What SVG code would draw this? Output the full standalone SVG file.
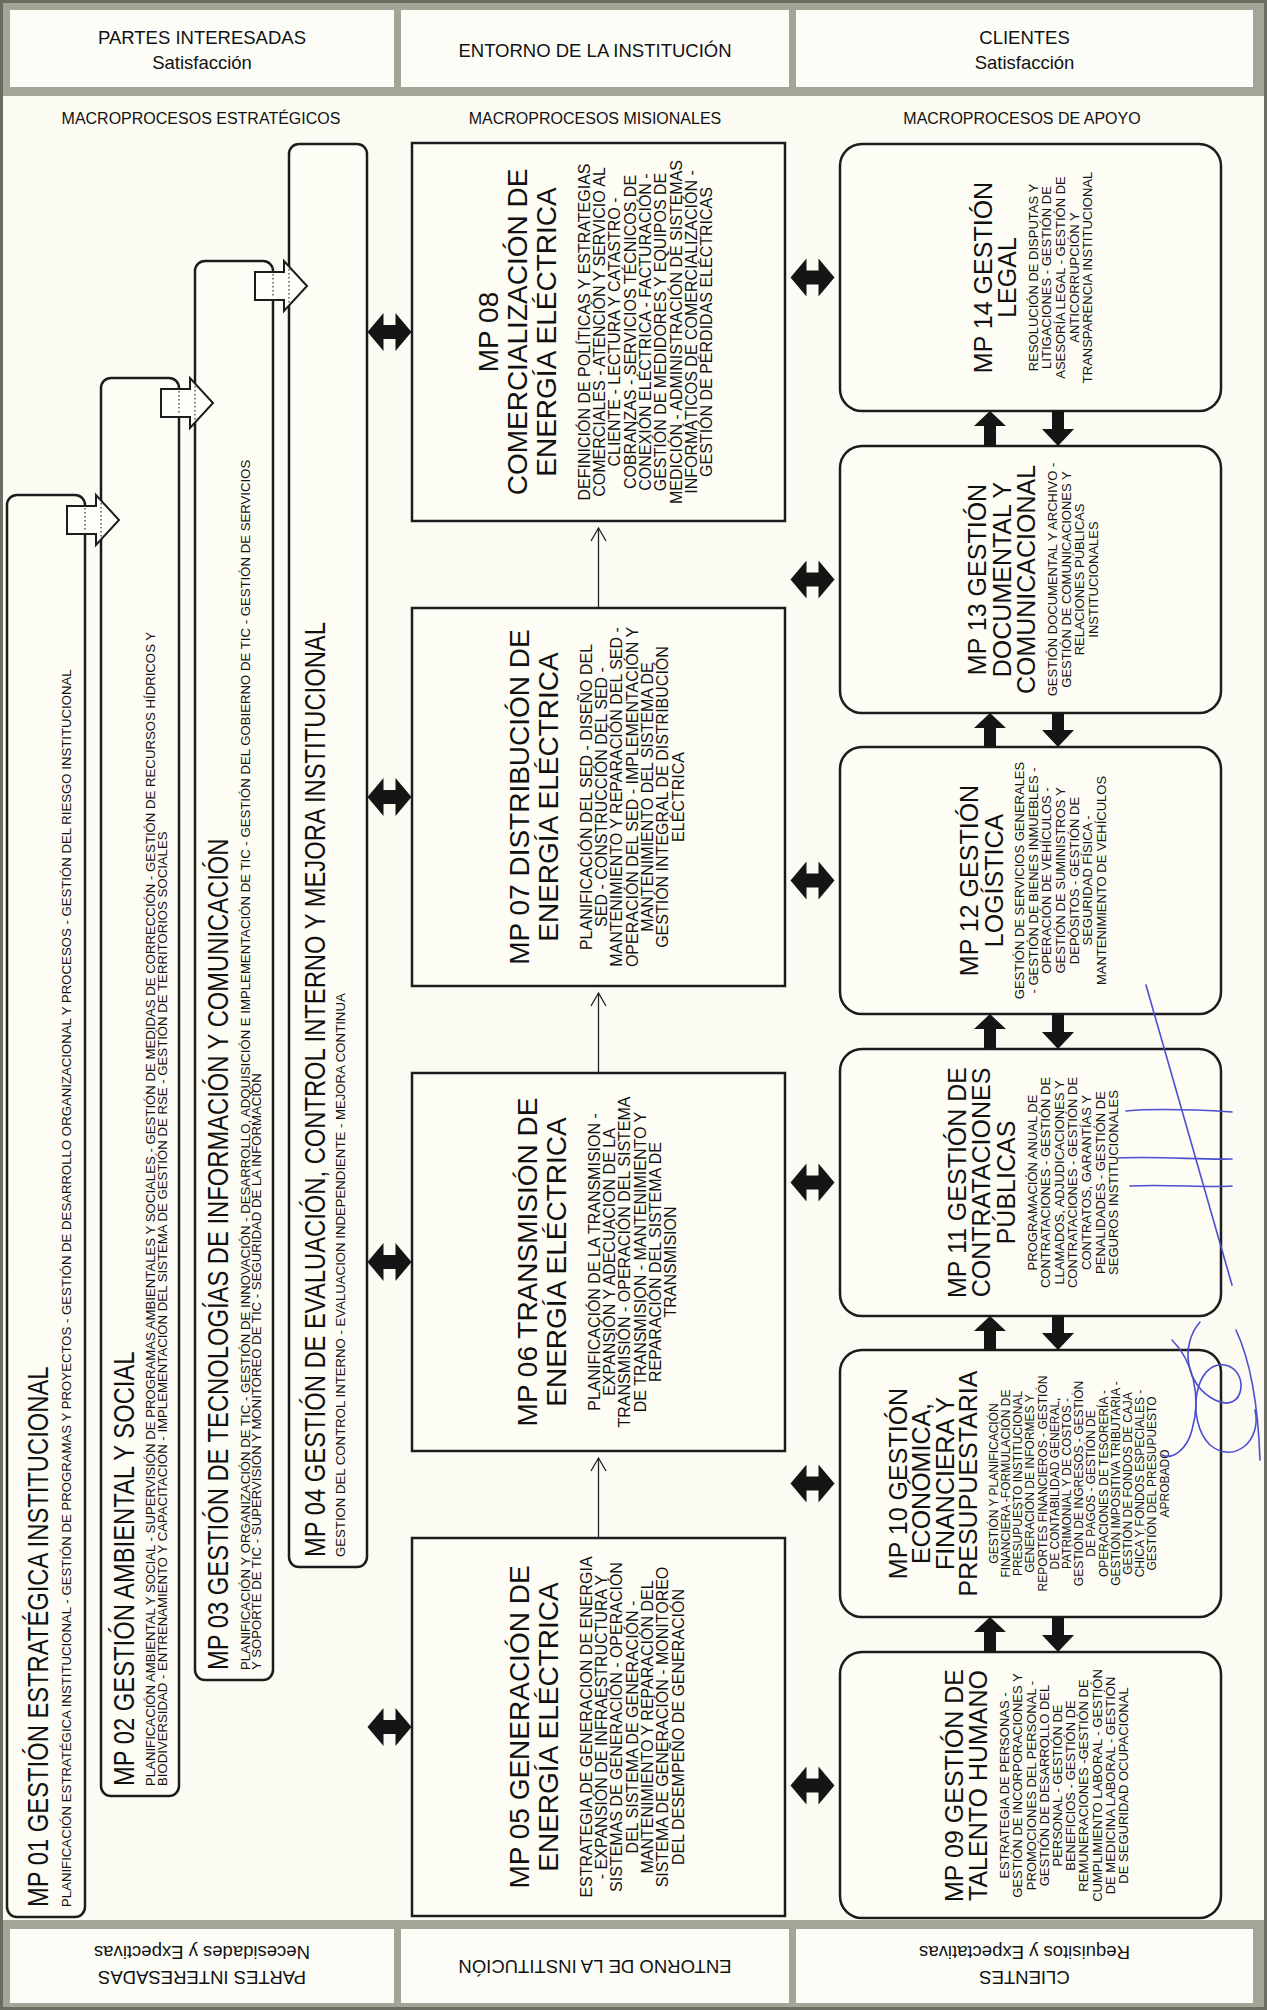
<svg xmlns="http://www.w3.org/2000/svg" width="1267" height="2010" viewBox="0 0 1267 2010">
<style>
.bg{fill:#fcfbf3}
.band{fill:#a3a597}
.hbox{fill:#fdfdf8}
.node{fill:#fdfcf5;stroke:#1c1c1c;stroke-width:2.5}
.txt{font-family:"Liberation Sans",Arial,Helvetica,sans-serif;fill:#111}
.hd{font-size:18.5px;text-anchor:middle}
.col{font-size:16px;text-anchor:middle}
.mt{font-size:28px;text-anchor:middle}
.md{font-size:16px;text-anchor:middle}
.at{font-size:25px;text-anchor:middle}
.ad{font-size:13px;text-anchor:middle}
.ad2{font-size:12px;text-anchor:middle}
.st{font-size:29px}
.sd{font-size:13.2px}
.blk{fill:#151515}
.hollow{fill:#fffffa;stroke:#1c1c1c;stroke-width:2}
.dot{stroke:#333;stroke-width:1.2;stroke-dasharray:1.5 2.5}
.thin{stroke:#222;stroke-width:1.3;fill:none}
.pen{stroke:#4a4fd0;stroke-width:1.6;fill:none;stroke-linecap:round}
</style>
<defs>
<path id="dbl" d="M-22,0 L-6,-19 V-7 H6 V-19 L22,0 L6,19 V7 H-6 V19 Z"/>
</defs>
<rect class="bg" x="0" y="0" width="1267" height="2010"/>
<!-- bands -->
<rect class="band" x="0" y="0" width="1267" height="96"/>
<rect class="band" x="0" y="1920" width="1267" height="90"/>
<rect x="1.5" y="1.5" width="1264" height="2007" fill="none" stroke="#6b6d63" stroke-width="3"/>

<g id="hdr-partes">
<rect class="hbox" x="10" y="10" width="384" height="77"/>
<text class="txt hd"><tspan x="202" y="44">PARTES INTERESADAS</tspan><tspan x="202" y="69">Satisfacción</tspan></text>
</g>
<g id="hdr-entorno">
<rect class="hbox" x="401" y="10" width="388" height="77"/>
<text class="txt hd" x="595" y="57">ENTORNO DE LA INSTITUCIÓN</text>
</g>
<g id="hdr-clientes">
<rect class="hbox" x="796" y="10" width="457" height="77"/>
<text class="txt hd"><tspan x="1024.5" y="44">CLIENTES</tspan><tspan x="1024.5" y="69">Satisfacción</tspan></text>
</g>
<g id="ftr-partes">
<rect class="hbox" x="10" y="1929" width="384" height="74"/>
<text class="txt hd" transform="rotate(180 202 1966)"><tspan x="202" y="1961">PARTES INTERESADAS</tspan><tspan x="202" y="1986">Necesidades y Expectivas</tspan></text>
</g>
<g id="ftr-entorno">
<rect class="hbox" x="401" y="1929" width="388" height="74"/>
<text class="txt hd" transform="rotate(180 595 1966)" x="595" y="1972.5">ENTORNO DE LA INSTITUCIÓN</text>
</g>
<g id="ftr-clientes">
<rect class="hbox" x="796" y="1929" width="457" height="74"/>
<text class="txt hd" transform="rotate(180 1024.5 1966)"><tspan x="1024.5" y="1961">CLIENTES</tspan><tspan x="1024.5" y="1986">Requisitos y Expectativas</tspan></text>
</g>

<text class="txt col" x="201" y="124">MACROPROCESOS ESTRATÉGICOS</text>
<text class="txt col" x="595" y="124">MACROPROCESOS MISIONALES</text>
<text class="txt col" x="1022" y="124">MACROPROCESOS DE APOYO</text>

<!-- strategic -->
<g id="mp01">
<rect class="node" x="7" y="495" width="78" height="1422" rx="10"/>
<text class="txt st" transform="translate(48.4,1907) rotate(-90) scale(0.82,1)">MP 01 GESTIÓN ESTRATÉGICA INSTITUCIONAL</text>
<text class="txt sd" transform="translate(70.65,1907) rotate(-90)">PLANIFICACIÓN ESTRATÉGICA INSTITUCIONAL - GESTIÓN DE PROGRAMAS Y PROYECTOS - GESTIÓN DE DESARROLLO ORGANIZACIONAL Y PROCESOS - GESTIÓN DEL RIESGO INSTITUCIONAL</text>
</g>
<g id="mp02">
<rect class="node" x="101" y="378" width="78" height="1418" rx="10"/>
<text class="txt st" transform="translate(134.4,1786) rotate(-90) scale(0.82,1)">MP 02 GESTIÓN AMBIENTAL Y SOCIAL</text>
<text class="txt sd" transform="translate(154.65,1786) rotate(-90)">PLANIFICACIÓN AMBIENTAL Y SOCIAL - SUPERVISIÓN DE PROGRAMAS AMBIENTALES Y SOCIALES - GESTIÓN DE MEDIDAS DE CORRECCIÓN - GESTIÓN DE RECURSOS HÍDRICOS Y</text>
<text class="txt sd" transform="translate(166.65,1786) rotate(-90)">BIODIVERSIDAD - ENTRENAMIENTO Y CAPACITACIÓN - IMPLEMENTACIÓN DEL SISTEMA DE GESTIÓN DE RSE - GESTIÓN DE TERRITORIOS SOCIALES</text>
</g>
<g id="mp03">
<rect class="node" x="195" y="261" width="78" height="1419" rx="10"/>
<text class="txt st" transform="translate(228.4,1670) rotate(-90) scale(0.82,1)">MP 03 GESTIÓN DE TECNOLOGÍAS DE INFORMACIÓN Y COMUNICACIÓN</text>
<text class="txt sd" transform="translate(249.65,1670) rotate(-90)">PLANIFICACIÓN Y ORGANIZACIÓN DE TIC - GESTIÓN DE INNOVACIÓN - DESARROLLO, ADQUISICIÓN E IMPLEMENTACIÓN DE TIC - GESTIÓN DEL GOBIERNO DE TIC - GESTIÓN DE SERVICIOS</text>
<text class="txt sd" transform="translate(260.65,1670) rotate(-90)">Y SOPORTE DE TIC - SUPERVISIÓN Y MONITOREO DE TIC - SEGURIDAD DE LA INFORMACIÓN</text>
</g>
<g id="mp04">
<rect class="node" x="289" y="144" width="78" height="1423" rx="10"/>
<text class="txt st" transform="translate(325.4,1557) rotate(-90) scale(0.82,1)">MP 04 GESTIÓN DE EVALUACIÓN, CONTROL INTERNO Y MEJORA INSTITUCIONAL</text>
<text class="txt sd" transform="translate(344.65,1557) rotate(-90)">GESTION DEL CONTROL INTERNO - EVALUACION INDEPENDIENTE - MEJORA CONTINUA</text>
</g>

<!-- misional -->
<g id="mp08">
<rect class="node" x="412" y="143" width="373" height="378"/>
<g class="txt" transform="translate(598.5,332) rotate(-90)">
<text class="mt"><tspan x="0" y="-100.5">MP 08</tspan><tspan x="0" y="-71.5">COMERCIALIZACIÓN DE</tspan><tspan x="0" y="-42.5">ENERGÍA ELÉCTRICA</tspan></text>
<text class="md"><tspan x="0" y="-8.75">DEFINICIÓN DE POLÍTICAS Y ESTRATEGIAS</tspan><tspan x="0" y="6.55">COMERCIALES - ATENCIÓN Y SERVICIO AL</tspan><tspan x="0" y="21.85">CLIENTE - LECTURA Y CATASTRO -</tspan><tspan x="0" y="37.15">COBRANZAS - SERVICIOS TÉCNICOS DE</tspan><tspan x="0" y="52.45">CONEXIÓN ELÉCTRICA - FACTURACIÓN -</tspan><tspan x="0" y="67.75">GESTIÓN DE MEDIDORES Y EQUIPOS DE</tspan><tspan x="0" y="83.05">MEDICIÓN - ADMINISTRACIÓN DE SISTEMAS</tspan><tspan x="0" y="98.35">INFORMÁTICOS DE COMERCIALIZACIÓN -</tspan><tspan x="0" y="113.65">GESTIÓN DE PÉRDIDAS ELÉCTRICAS</tspan></text>
</g>
</g>
<g id="mp07">
<rect class="node" x="412" y="608" width="373" height="378"/>
<g class="txt" transform="translate(598.5,797) rotate(-90)">
<text class="mt"><tspan x="0" y="-69.5">MP 07 DISTRIBUCIÓN DE</tspan><tspan x="0" y="-40.5">ENERGÍA ELÉCTRICA</tspan></text>
<text class="md"><tspan x="0" y="-6.75">PLANIFICACIÓN DEL SED  - DISEÑO DEL</tspan><tspan x="0" y="8.55">SED - CONSTRUCCIÓN DEL SED -</tspan><tspan x="0" y="23.85">MANTENIMIENTO Y REPARACIÓN DEL SED -</tspan><tspan x="0" y="39.15">OPERACIÓN DEL SED - IMPLEMENTACIÓN Y</tspan><tspan x="0" y="54.45">MANTENIMIENTO DEL SISTEMA DE</tspan><tspan x="0" y="69.75">GESTIÓN INTEGRAL DE DISTRIBUCIÓN</tspan><tspan x="0" y="85.05">ELÉCTRICA</tspan></text>
</g>
</g>
<g id="mp06">
<rect class="node" x="412" y="1073" width="373" height="378"/>
<g class="txt" transform="translate(598.5,1262) rotate(-90)">
<text class="mt"><tspan x="0" y="-61.5">MP 06 TRANSMISIÓN DE</tspan><tspan x="0" y="-32.5">ENERGÍA ELÉCTRICA</tspan></text>
<text class="md"><tspan x="0" y="1.25">PLANIFICACIÓN DE LA TRANSMISION -</tspan><tspan x="0" y="16.55">EXPANSIÓN Y ADECUACION DE LA</tspan><tspan x="0" y="31.85">TRANSMISIÓN - OPERACIÓN DEL SISTEMA</tspan><tspan x="0" y="47.15">DE TRANSMISION - MANTENIMIENTO Y</tspan><tspan x="0" y="62.45">REPARACIÓN DEL SISTEMA DE</tspan><tspan x="0" y="77.75">TRANSMISION</tspan></text>
</g>
</g>
<g id="mp05">
<rect class="node" x="412" y="1538" width="373" height="378"/>
<g class="txt" transform="translate(598.5,1727) rotate(-90)">
<text class="mt"><tspan x="0" y="-69.5">MP 05 GENERACIÓN DE</tspan><tspan x="0" y="-40.5">ENERGÍA ELÉCTRICA</tspan></text>
<text class="md"><tspan x="0" y="-6.75">ESTRATEGIA DE GENERACION DE ENERGIA</tspan><tspan x="0" y="8.55">- EXPANSIÓN DE INFRAESTRUCTURA Y</tspan><tspan x="0" y="23.85">SISTEMAS DE GENERACIÓN - OPERACIÓN</tspan><tspan x="0" y="39.15">DEL SISTEMA DE GENERACIÓN -</tspan><tspan x="0" y="54.45">MANTENIMIENTO Y REPARACIÓN DEL</tspan><tspan x="0" y="69.75">SISTEMA DE GENERACIÓN - MONITOREO</tspan><tspan x="0" y="85.05">DEL DESEMPEÑO DE GENERACIÓN</tspan></text>
</g>
</g>

<!-- apoyo -->
<g id="mp14">
<rect class="node" x="840" y="144" width="381" height="267" rx="22"/>
<g class="txt" transform="translate(1030.5,277.5) rotate(-90)">
<text class="at"><tspan x="0" y="-38.85">MP 14 GESTIÓN</tspan><tspan x="0" y="-14.35">LEGAL</tspan></text>
<text class="ad"><tspan x="0" y="7.35">RESOLUCIÓN DE DISPUTAS Y</tspan><tspan x="0" y="20.95">LITIGACIONES - GESTIÓN DE</tspan><tspan x="0" y="34.55">ASESORÍA LEGAL - GESTIÓN DE</tspan><tspan x="0" y="48.15">ANTICORRUPCIÓN Y</tspan><tspan x="0" y="61.75">TRANSPARENCIA INSTITUCIONAL</tspan></text>
</g>
</g>
<g id="mp13">
<rect class="node" x="840" y="446" width="381" height="267" rx="22"/>
<g class="txt" transform="translate(1030.5,579.5) rotate(-90)">
<text class="at"><tspan x="0" y="-44.3">MP 13 GESTIÓN</tspan><tspan x="0" y="-19.8">DOCUMENTAL Y</tspan><tspan x="0" y="4.7">COMUNICACIONAL</tspan></text>
<text class="ad"><tspan x="0" y="26.4">GESTIÓN DOCUMENTAL Y ARCHIVO -</tspan><tspan x="0" y="40">GESTIÓN DE COMUNICACIONES Y</tspan><tspan x="0" y="53.6">RELACIONES PÚBLICAS</tspan><tspan x="0" y="67.2">INSTITUCIONALES</tspan></text>
</g>
</g>
<g id="mp12">
<rect class="node" x="840" y="747" width="381" height="267" rx="22"/>
<g class="txt" transform="translate(1030.5,880.5) rotate(-90)">
<text class="at"><tspan x="0" y="-52.45">MP 12 GESTIÓN</tspan><tspan x="0" y="-27.95">LOGÍSTICA</tspan></text>
<text class="ad"><tspan x="0" y="-6.25">GESTIÓN DE SERVICIOS GENERALES</tspan><tspan x="0" y="7.35">- GESTIÓN DE BIENES INMUEBLES -</tspan><tspan x="0" y="20.95">OPERACIÓN DE VEHÍCULOS -</tspan><tspan x="0" y="34.55">GESTIÓN DE SUMINISTROS Y</tspan><tspan x="0" y="48.15">DEPÓSITOS - GESTIÓN DE</tspan><tspan x="0" y="61.75">SEGURIDAD FÍSICA -</tspan><tspan x="0" y="75.35">MANTENIMIENTO DE VEHÍCULOS</tspan></text>
</g>
</g>
<g id="mp11">
<rect class="node" x="840" y="1049" width="381" height="267" rx="22"/>
<g class="txt" transform="translate(1030.5,1182.5) rotate(-90)">
<text class="at"><tspan x="0" y="-64.7">MP 11 GESTIÓN DE</tspan><tspan x="0" y="-40.2">CONTRATACIONES</tspan><tspan x="0" y="-15.7">PÚBLICAS</tspan></text>
<text class="ad"><tspan x="0" y="6">PROGRAMACIÓN ANUAL DE</tspan><tspan x="0" y="19.6">CONTRATACIONES - GESTIÓN DE</tspan><tspan x="0" y="33.2">LLAMADOS, ADJUDICACIONES Y</tspan><tspan x="0" y="46.8">CONTRATACIONES - GESTIÓN DE</tspan><tspan x="0" y="60.4">CONTRATOS, GARANTÍAS Y</tspan><tspan x="0" y="74">PENALIDADES - GESTIÓN DE</tspan><tspan x="0" y="87.6">SEGUROS INSTITUCIONALES</tspan></text>
</g>
</g>
<g id="mp10">
<rect class="node" x="840" y="1350" width="381" height="267" rx="22"/>
<g class="txt" transform="translate(1030.5,1483.5) rotate(-90)">
<text class="at"><tspan x="0" y="-123.55">MP 10 GESTIÓN</tspan><tspan x="0" y="-100.05">ECONÓMICA,</tspan><tspan x="0" y="-76.55">FINANCIERA Y</tspan><tspan x="0" y="-53.05">PRESUPUESTARIA</tspan></text>
<text class="ad2"><tspan x="0" y="-32.7">GESTIÓN Y PLANIFICACIÓN</tspan><tspan x="0" y="-20.5">FINANCIERA -FORMULACIÓN DE</tspan><tspan x="0" y="-8.3">PRESUPUESTO INSTITUCIONAL</tspan><tspan x="0" y="3.9">GENERACIÓN DE INFORMES Y</tspan><tspan x="0" y="16.1">REPORTES FINANCIEROS - GESTIÓN</tspan><tspan x="0" y="28.3">DE CONTABILIDAD GENERAL,</tspan><tspan x="0" y="40.5">PATRIMONIAL Y DE COSTOS -</tspan><tspan x="0" y="52.7">GESTIÓN DE INGRESOS - GESTIÓN</tspan><tspan x="0" y="64.9">DE PAGOS - GESTIÓN DE</tspan><tspan x="0" y="77.1">OPERACIONES DE TESORERÍA -</tspan><tspan x="0" y="89.3">GESTIÓN IMPOSITIVA TRIBUTARIA -</tspan><tspan x="0" y="101.5">GESTIÓN DE FONDOS DE CAJA</tspan><tspan x="0" y="113.7">CHICA Y FONDOS  ESPECIALES -</tspan><tspan x="0" y="125.9">GESTIÓN DEL PRESUPUESTO</tspan><tspan x="0" y="138.1">APROBADO</tspan></text>
</g>
</g>
<g id="mp09">
<rect class="node" x="840" y="1652" width="381" height="266" rx="22"/>
<g class="txt" transform="translate(1030.5,1785.5) rotate(-90)">
<text class="at"><tspan x="0" y="-67.55">MP 09 GESTIÓN DE</tspan><tspan x="0" y="-43.05">TALENTO HUMANO</tspan></text>
<text class="ad"><tspan x="0" y="-21.35">ESTRATEGIA DE PERSONAS -</tspan><tspan x="0" y="-8.15">GESTIÓN DE INCORPORACIONES Y</tspan><tspan x="0" y="5.05">PROMOCIONES DEL PERSONAL -</tspan><tspan x="0" y="18.25">GESTIÓN DE DESARROLLO DEL</tspan><tspan x="0" y="31.45">PERSONAL - GESTIÓN DE</tspan><tspan x="0" y="44.65">BENEFICIOS - GESTIÓN DE</tspan><tspan x="0" y="57.85">REMUNERACIONES -GESTIÓN DE</tspan><tspan x="0" y="71.05">CUMPLIMIENTO LABORAL - GESTIÓN</tspan><tspan x="0" y="84.25">DE MEDICINA LABORAL - GESTIÓN</tspan><tspan x="0" y="97.45">DE SEGURIDAD OCUPACIONAL</tspan></text>
</g>
</g>

<!-- connectors -->
<g id="connectors">
<g id="hollow-arrows">
<path class="hollow" d="M67,506 H96 V495 L119,520 L96,545 V534 H67 Z"/>
<line class="dot" x1="85" y1="508" x2="85" y2="532"/><line class="dot" x1="101" y1="503" x2="101" y2="537"/>
<path class="hollow" d="M161,389 H190 V378 L213,403 L190,428 V417 H161 Z"/>
<line class="dot" x1="179" y1="391" x2="179" y2="415"/><line class="dot" x1="195" y1="386" x2="195" y2="420"/>
<path class="hollow" d="M255,272 H284 V261 L307,286 L284,311 V300 H255 Z"/>
<line class="dot" x1="273" y1="274" x2="273" y2="298"/><line class="dot" x1="289" y1="269" x2="289" y2="303"/>
</g>
<g id="double-arrows" class="blk">
<use href="#dbl" transform="translate(389.5,332)"/>
<use href="#dbl" transform="translate(389.5,797)"/>
<use href="#dbl" transform="translate(389.5,1262)"/>
<use href="#dbl" transform="translate(389.5,1727)"/>
<use href="#dbl" transform="translate(812.5,277.5)"/>
<use href="#dbl" transform="translate(812.5,579.5)"/>
<use href="#dbl" transform="translate(812.5,880.5)"/>
<use href="#dbl" transform="translate(812.5,1182.5)"/>
<use href="#dbl" transform="translate(812.5,1483.5)"/>
<use href="#dbl" transform="translate(812.5,1785.5)"/>
</g>
<g id="flow-arrows" class="thin">
<line x1="598.5" y1="1538" x2="598.5" y2="1458"/><polyline points="591,1471 598.5,1458 606,1471"/>
<line x1="598.5" y1="1073" x2="598.5" y2="993"/><polyline points="591,1006 598.5,993 606,1006"/>
<line x1="598.5" y1="608" x2="598.5" y2="528"/><polyline points="591,541 598.5,528 606,541"/>
</g>
<g id="support-arrows" class="blk">
<path d="M990,411 L1006,426 H996 V446 H984 V426 H974 Z"/>
<path d="M1052,411 H1064 V429 H1074 L1058,446 L1042,429 H1052 Z"/>
<path d="M990,713 L1006,728 H996 V747 H984 V728 H974 Z"/>
<path d="M1052,713 H1064 V730 H1074 L1058,747 L1042,730 H1052 Z"/>
<path d="M990,1014 L1006,1029 H996 V1049 H984 V1029 H974 Z"/>
<path d="M1052,1014 H1064 V1032 H1074 L1058,1049 L1042,1032 H1052 Z"/>
<path d="M990,1316 L1006,1331 H996 V1350 H984 V1331 H974 Z"/>
<path d="M1052,1316 H1064 V1333 H1074 L1058,1350 L1042,1333 H1052 Z"/>
<path d="M990,1617 L1006,1632 H996 V1652 H984 V1632 H974 Z"/>
<path d="M1052,1617 H1064 V1635 H1074 L1058,1652 L1042,1635 H1052 Z"/>
</g>
</g>

<!-- pen marks -->
<g id="pen-marks">
<path class="pen" d="M1146,985 L1232,1285"/>
<path class="pen" d="M1126,1111 C1160,1108 1200,1110 1232,1112"/>
<path class="pen" d="M1118,1158 C1160,1156 1200,1160 1232,1159"/>
<path class="pen" d="M1130,1186 C1170,1184 1205,1188 1232,1186"/>
<path class="pen" d="M1200,1322 C1180,1345 1185,1385 1215,1400 C1245,1415 1250,1370 1225,1365 C1195,1360 1185,1420 1210,1445 C1235,1465 1262,1440 1255,1410"/>
<path class="pen" d="M1172,1340 C1192,1360 1202,1395 1192,1430 C1187,1450 1172,1460 1162,1455"/>
<path class="pen" d="M1236,1330 C1250,1360 1258,1400 1260,1460"/>
</g>
</svg>
